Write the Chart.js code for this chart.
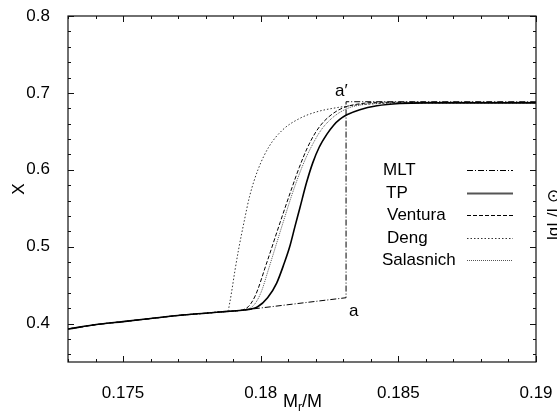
<!DOCTYPE html>
<html>
<head>
<meta charset="utf-8">
<script src="https://cdn.jsdelivr.net/npm/chart.js@4/dist/chart.umd.min.js"></script>
<style>
  html, body { margin: 0; padding: 0; background: #fff; }
  canvas { display: block; }
</style>
</head>
<body>
<canvas id="chart" width="557" height="411"></canvas>
<script>
// X (hydrogen/helium profile) vs M_r/M for five convection treatments.
const xTickValues = [0.175, 0.18, 0.185, 0.19];
const xTickLabels = ["0.175", "0.18", "0.185", "0.19"];
const yTickValues = [0.4, 0.5, 0.6, 0.7, 0.8];
const yTickLabels = ["0.4", "0.5", "0.6", "0.7", "0.8"];

// shared radiative part, before the curves split off
const baseX = [0.173, 0.1741, 0.175, 0.176, 0.177, 0.178, 0.1788];
const baseY = [0.393, 0.399, 0.4025, 0.4065, 0.4105, 0.4135, 0.4158];

const mltX = [0.1792, 0.1831, 0.1831, 0.190];
const mltY = [0.4168, 0.4336, 0.6885, 0.6885];

const tpX = [0.1794, 0.17989, 0.18025, 0.18058, 0.18085, 0.18105, 0.18125, 0.18142, 0.18167, 0.18189, 0.18212, 0.1824, 0.18265, 0.18287, 0.18313, 0.1836, 0.18422, 0.18505, 0.186, 0.19];
const tpY = [0.4176, 0.4219, 0.4335, 0.4527, 0.478, 0.4995, 0.527, 0.55, 0.584, 0.609, 0.629, 0.646, 0.658, 0.6655, 0.6715, 0.6782, 0.6832, 0.6862, 0.687, 0.687];

const venturaX = [0.179, 0.1795, 0.1798, 0.1802, 0.1807, 0.1811, 0.1814, 0.1817, 0.182, 0.1823, 0.1827, 0.1831, 0.1836, 0.1843, 0.19];
const venturaY = [0.4163, 0.4205, 0.436, 0.477, 0.531, 0.573, 0.603, 0.629, 0.649, 0.663, 0.675, 0.682, 0.6858, 0.6878, 0.6877];

const dengX = [0.1788, 0.17888, 0.17896, 0.17906, 0.1792, 0.1794, 0.1796, 0.1799, 0.1803, 0.1808, 0.1814, 0.182, 0.1828, 0.1836, 0.185, 0.19];
const dengY = [0.4158, 0.428, 0.445, 0.468, 0.497, 0.533, 0.566, 0.6, 0.63, 0.652, 0.6665, 0.675, 0.681, 0.6845, 0.6868, 0.687];

const salasnichX = [0.17915, 0.1797, 0.18, 0.1803, 0.1808, 0.1812, 0.1816, 0.1819, 0.1822, 0.1826, 0.1831, 0.1836, 0.1843, 0.1851, 0.19];
const salasnichY = [0.4166, 0.4222, 0.4395, 0.4725, 0.53, 0.5745, 0.612, 0.634, 0.652, 0.6675, 0.679, 0.6842, 0.6865, 0.6872, 0.687];

const FONT = '"Liberation Sans", Arial, Helvetica, sans-serif';

function pts(xs, ys) {
  return baseX.map((x, i) => ({ x, y: baseY[i] })).concat(xs.map((x, i) => ({ x, y: ys[i] })));
}

const series = [
  { label: "MLT",       data: pts(mltX, mltY),             color: "#000", width: 1,   dash: [6, 2, 1, 2], smooth: false },
  { label: "TP",        data: pts(tpX, tpY),               color: "#000", width: 1.6, dash: [],           smooth: true },
  { label: "Ventura",   data: pts(venturaX, venturaY),     color: "#000", width: 1,   dash: [4, 2],       smooth: true },
  { label: "Deng",      data: pts(dengX, dengY),           color: "#333", width: 1,   dash: [1.5, 2],     smooth: true },
  { label: "Salasnich", data: pts(salasnichX, salasnichY), color: "#555", width: 1,   dash: [1, 1],       smooth: true },
];

// ---- frame, inward ticks, legend and labels ----
const decorations = {
  id: "decorations",
  afterDraw(chart) {
    const { ctx, chartArea: a, scales: { x, y } } = chart;
    ctx.save();
    ctx.strokeStyle = "#111";
    ctx.lineWidth = 1.2;
    ctx.setLineDash([]);
    ctx.strokeRect(a.left, a.top, a.right - a.left, a.bottom - a.top);

    ctx.lineWidth = 1;
    ctx.beginPath();
    for (let i = 0; i <= 17; i++) {
      const v = 0.173 + i * 0.001;
      const major = xTickValues.some(t => Math.abs(t - v) < 1e-7);
      const len = major ? 6 : 3;
      const px = Math.round(x.getPixelForValue(v)) + 0.5;
      ctx.moveTo(px, a.bottom); ctx.lineTo(px, a.bottom - len);
      ctx.moveTo(px, a.top); ctx.lineTo(px, a.top + len);
    }
    for (let i = 0; i <= 22; i++) {
      const v = 0.36 + i * 0.02;
      const major = yTickValues.some(t => Math.abs(t - v) < 1e-7);
      const len = major ? 6 : 3;
      const py = Math.round(y.getPixelForValue(v)) + 0.5;
      ctx.moveTo(a.left, py); ctx.lineTo(a.left + len, py);
      ctx.moveTo(a.right, py); ctx.lineTo(a.right - len, py);
    }
    ctx.stroke();

    // legend
    ctx.font = "17px " + FONT;
    ctx.fillStyle = "#000";
    ctx.textBaseline = "middle";
    ctx.textAlign = "left";
    const textX = [383, 386, 387, 387, 382];
    const rowY = [170, 193, 215, 238, 260];
    series.forEach((s, i) => {
      ctx.fillText(s.label, textX[i], rowY[i]);
      ctx.beginPath();
      ctx.strokeStyle = s.color === "#000" && s.width > 1 ? "#555" : s.color;
      ctx.lineWidth = s.width > 1 ? 2 : 1;
      ctx.setLineDash(s.dash);
      ctx.moveTo(467, rowY[i] + 0.5);
      ctx.lineTo(513, rowY[i] + 0.5);
      ctx.stroke();
    });
    ctx.setLineDash([]);

    // a and a′ marks
    ctx.fillText("a\u2032", 335, 91);
    ctx.fillText("a", 349, 311);

    // x axis title M_r/M
    ctx.font = "18px " + FONT;
    ctx.textBaseline = "alphabetic";
    let tx = 283;
    ctx.fillText("M", tx, 407);
    tx += ctx.measureText("M").width;
    ctx.font = "12px " + FONT;
    ctx.fillText("r", tx, 411);
    tx += ctx.measureText("r").width;
    ctx.font = "18px " + FONT;
    ctx.fillText("/M", tx, 407);

    // label of the neighbouring panel, cut at the right edge
    ctx.translate(559, 240);
    ctx.rotate(-Math.PI / 2);
    ctx.font = "17px " + FONT;
    ctx.fillText("lgL/L\u2299", 0, 0);
    ctx.restore();
  },
};

new Chart(document.getElementById("chart"), {
  type: "line",
  data: {
    datasets: series.map(s => ({
      label: s.label,
      data: s.data,
      borderColor: s.color,
      borderWidth: s.width,
      borderDash: s.dash,
      pointRadius: 0,
      fill: false,
      cubicInterpolationMode: s.smooth ? "monotone" : "default",
      tension: 0,
    })),
  },
  options: {
    responsive: false,
    animation: false,
    layout: { padding: { top: 16, right: 21, left: 0, bottom: 0 } },
    plugins: { legend: { display: false }, tooltip: { enabled: false } },
    scales: {
      x: {
        type: "linear",
        min: 0.173,
        max: 0.19,
        grid: { display: false },
        border: { display: false },
        afterBuildTicks: sc => { sc.ticks = xTickValues.map(v => ({ value: v })); },
        afterFit: sc => { sc.height = 49; sc.paddingLeft = 0; sc.paddingRight = 0; },
        ticks: {
          color: "#000",
          font: { family: FONT, size: 17 },
          padding: 13,
          maxRotation: 0,
          callback: v => xTickLabels[xTickValues.findIndex(t => Math.abs(t - v) < 1e-7)],
        },
      },
      y: {
        type: "linear",
        min: 0.35,
        max: 0.8,
        grid: { display: false },
        border: { display: false },
        afterBuildTicks: sc => { sc.ticks = yTickValues.map(v => ({ value: v })); },
        afterFit: sc => { sc.width = 68; sc.paddingTop = 0; sc.paddingBottom = 0; },
        ticks: {
          color: "#000",
          font: { family: FONT, size: 17 },
          padding: 10,
          callback: v => yTickLabels[yTickValues.findIndex(t => Math.abs(t - v) < 1e-7)],
        },
        title: {
          display: true,
          text: "X",
          color: "#000",
          font: { family: FONT, size: 17 },
          padding: { top: 9, bottom: 0 },
        },
      },
    },
  },
  plugins: [decorations],
});
</script>
</body>
</html>
